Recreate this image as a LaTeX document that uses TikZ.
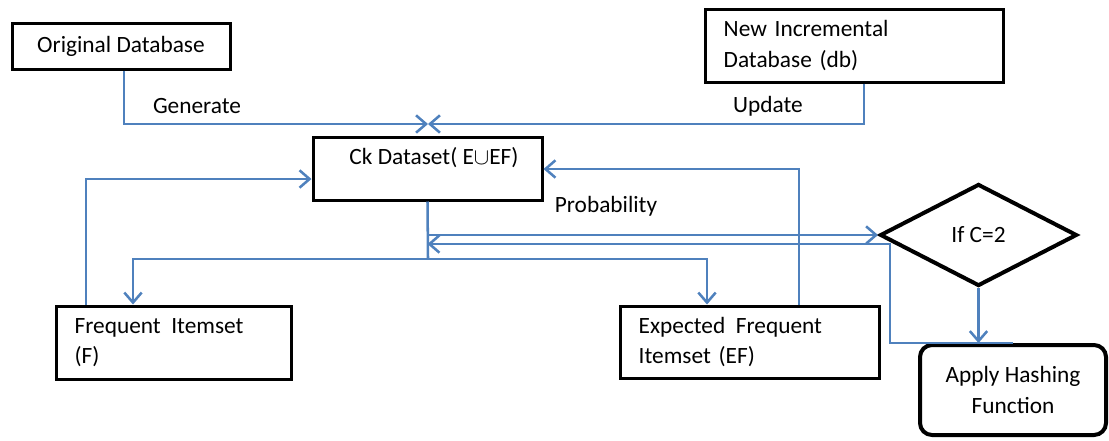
\documentclass[tikz,border=0pt]{standalone}
\usepackage{fontspec}
\setmainfont{Carlito}
\usetikzlibrary{arrows.meta,shapes.geometric}
\definecolor{flowblue}{RGB}{79,129,189}

\tikzset{every picture/.style={line width=0.75pt}}
\tikzset{
  box/.style={draw=black, line width=2.25pt, inner sep=0pt},
  txtbox/.style={box, align=left, inner xsep=14pt},
  link/.style={draw=flowblue, line width=1.9pt},
  flow/.style={link, -{Straight Barb[length=7.5pt,width=13pt]}},
}

\begin{document}
\begin{tikzpicture}[x=0.75pt,y=0.75pt,yscale=-1,xscale=1,font=\fontsize{17.5}{23}\selectfont]
	\useasboundingbox (0,0) rectangle (1109,440);
	
	%Shape: Rectangle
	\node[box, minimum width=163.5pt, minimum height=34.5pt] (orig) at (121,46) {Original Database};
	%Shape: Rectangle
	\node[txtbox, text width=195.5pt, minimum height=54.75pt] (newdb) at (854,45.5) {New Incremental\\Database (db)};
	%Shape: Rectangle
	\node[box, minimum width=171.75pt, minimum height=47.25pt] (ck) at (427.5,168.5) {};
	%Shape: Rectangle
	\node[txtbox, text width=148.25pt, minimum height=54.75pt] (freq) at (173.5,342.5) {Frequent\hskip0.45em Itemset\\(F)};
	%Shape: Rectangle
	\node[txtbox, text width=166.25pt, minimum height=54pt] (ef) at (749.5,342) {Expected\hskip0.45em Frequent\\Itemset (EF)};
	%Flowchart: Decision
	\node[box, diamond, line width=3pt, minimum width=147.75pt, minimum height=76.5pt] (cond) at (978.5,235) {If C=2};
	%Rounded Rect
	\node[box, line width=3pt, rounded corners=9pt, align=center, minimum width=139.5pt, minimum height=67.5pt] (hash) at (1013,390) {Apply Hashing\\Function};
	
	\coordinate (merge) at (428,124);
	\coordinate (gen) at (124,124);
	\coordinate (upd) at (864,124);
	\coordinate (split) at (428,259);
	\coordinate (fdrop) at (133,259);
	\coordinate (edrop) at (707,259);
	\coordinate (fback) at (86,179);
	\coordinate (eback) at (799,169);
	\coordinate (hback) at (890,244);
	
	%Straight Lines
	\draw[flow] (orig.south -| gen) -- (gen) -- (merge);
	%Straight Lines
	\draw[flow] (newdb.south -| upd) -- (upd) -- (merge);
	%Straight Lines
	\draw[link] (ck.south) -- (split);
	\draw[flow] (split) -- (fdrop) -- (fdrop |- freq.north);
	\draw[flow] (split) -- (edrop) -- (edrop |- ef.north);
	%Straight Lines
	\draw[flow] (fback |- freq.north) -- (fback) -- (fback -| ck.west);
	\draw[flow] (eback |- ef.north) -- (eback) -- (eback -| ck.east);
	%Straight Lines
	\draw[flow] (ck.south |- cond.west) -- (cond.west);
	\draw[flow] (cond.south) -- (cond.south |- hash.north);
	\draw[flow] (hash.north) -| (hback) -- (hback -| ck.south);
	
	% Text Node
	\node (cktext) at (434,158) {Ck Dataset( E$\cup$EF)};
	% Text Node
	\node (genlbl) at (197,106) {Generate};
	% Text Node
	\node (updlbl) at (768,106) {Update};
	% Text Node
	\node (problbl) at (606,206) {Probability};
	
\end{tikzpicture}
\end{document}
